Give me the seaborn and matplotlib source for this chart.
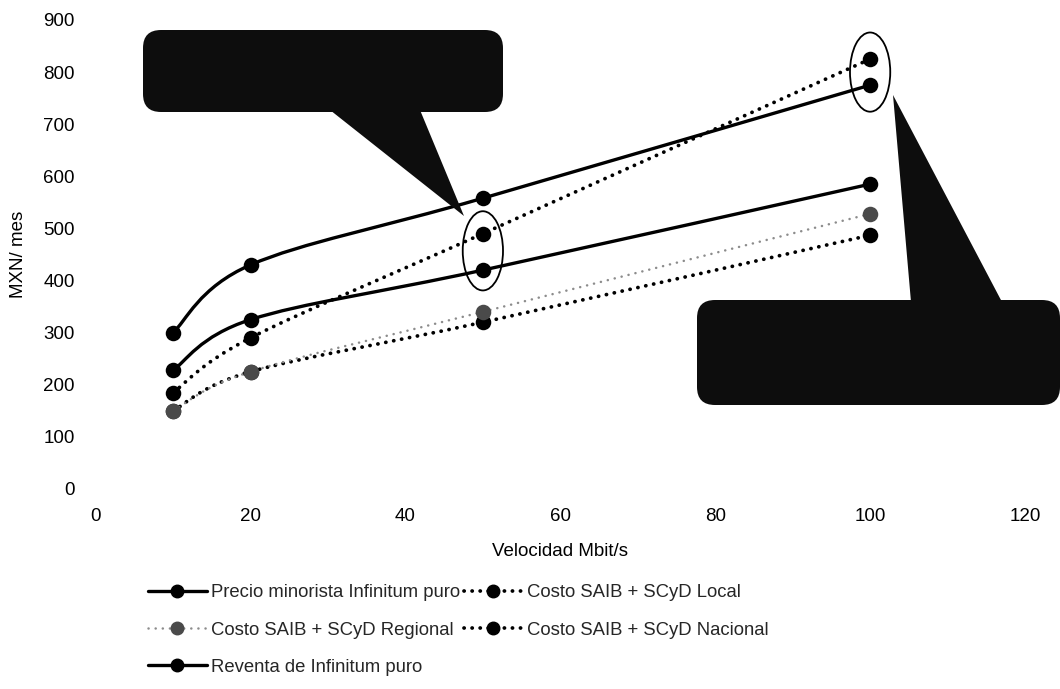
import numpy as np
import matplotlib
matplotlib.use("Agg")
import matplotlib.pyplot as plt
from matplotlib.path import Path
from matplotlib.patches import PathPatch, FancyBboxPatch, Polygon, Ellipse
from matplotlib.lines import Line2D
import seaborn as sns

# ---- data -------------------------------------------------------------
speeds = [10, 20, 50, 100]                      # Mbit/s
precio_minorista = [300, 430, 558, 775]         # MXN / mes
costo_local = [150, 225, 320, 487]
costo_regional = [150, 225, 340, 528]
costo_nacional = [185, 290, 490, 825]
reventa = [228, 325, 420, 585]

series_labels = [
    "Precio minorista Infinitum puro",
    "Costo SAIB + SCyD Local",
    "Costo SAIB + SCyD Regional",
    "Costo SAIB + SCyD Nacional",
    "Reventa de Infinitum puro",
]
x_ticks = [0, 20, 40, 60, 80, 100, 120]
y_ticks = [0, 100, 200, 300, 400, 500, 600, 700, 800, 900]
x_label = "Velocidad Mbit/s"
y_label = "MXN/ mes"

# ---- style ------------------------------------------------------------
sns.set_theme(style="white")
plt.rcParams["font.family"] = ["Liberation Sans", "DejaVu Sans"]

DOT = (0, (0.05, 2.1))
DOT_LIGHT = (0, (0.05, 2.8))
styles = {
    series_labels[0]: dict(values=precio_minorista, color="black", ls="-", lw=2.4, mc="black", z=4),
    series_labels[1]: dict(values=costo_local, color="black", ls=DOT, lw=2.7, mc="black", z=3),
    series_labels[2]: dict(values=costo_regional, color="#8c8c8c", ls=DOT_LIGHT, lw=1.8, mc="#4a4a4a", z=5),
    series_labels[3]: dict(values=costo_nacional, color="black", ls=DOT, lw=2.7, mc="black", z=3),
    series_labels[4]: dict(values=reventa, color="black", ls="-", lw=2.4, mc="black", z=4),
}


def smooth_path(xs, ys):
    """Cubic Bezier path through the points (Catmull-Rom style smoothing)."""
    pts = np.column_stack([xs, ys]).astype(float)
    n = len(pts)
    verts = [pts[0]]
    codes = [Path.MOVETO]
    for i in range(n - 1):
        p0 = pts[max(i - 1, 0)]
        p1 = pts[i]
        p2 = pts[i + 1]
        p3 = pts[min(i + 2, n - 1)]
        verts += [p1 + (p2 - p0) / 6.0, p2 - (p3 - p1) / 6.0, p2]
        codes += [Path.CURVE4] * 3
    return Path(verts, codes)


fig = plt.figure(figsize=(10.6, 6.89), dpi=100)
ax = fig.add_axes([0.0902, 0.2903, 0.8768, 0.6807])

for label, st in styles.items():
    patch = PathPatch(smooth_path(speeds, st["values"]), facecolor="none",
                      edgecolor=st["color"], lw=st["lw"], linestyle=st["ls"],
                      capstyle="round", joinstyle="round", zorder=st["z"])
    ax.add_patch(patch)
    sns.scatterplot(x=speeds, y=st["values"], color=st["mc"], s=125,
                    linewidth=0, ax=ax, zorder=st["z"] + 0.5, legend=False)

ax.set_xlim(0, 120)
ax.set_ylim(0, 900)
ax.set_xticks(x_ticks)
ax.set_yticks(y_ticks)
ax.tick_params(axis="both", length=0, labelsize=13.5, colors="black")
ax.tick_params(axis="x", pad=14)
ax.tick_params(axis="y", pad=15)
ax.set_xlabel(x_label, fontsize=13.5, labelpad=13, color="black")
ax.set_ylabel(y_label, fontsize=13.5, labelpad=12, color="black")
ax.grid(False)
sns.despine(ax=ax, left=True, bottom=True)

# ---- highlight ellipses around the crossing points --------------------
for cx, cy in [(50, 457), (100, 800)]:
    ax.add_patch(Ellipse((cx, cy), width=5.2, height=152, facecolor="none",
                         edgecolor="black", lw=1.3, zorder=6))

# ---- callout boxes (figure pixel coordinates, origin top-left) ---------
H = 689


def px(x, y):
    return (x / 100.0, (H - y) / 100.0)


box_color = "#0d0d0d"
callouts = [
    dict(box=(143, 30, 503, 112), tri=[(330, 110), (420, 110), (464, 216)]),
    dict(box=(697, 300, 1060, 405), tri=[(911, 302), (1002, 302), (893, 95)]),
]
for c in callouts:
    x0, y0, x1, y1 = c["box"]
    bx, by = px(x0, y1)
    fig.patches.append(FancyBboxPatch(
        (bx + 0.15, by + 0.15), (x1 - x0) / 100.0 - 0.30, (y1 - y0) / 100.0 - 0.30,
        boxstyle="round,pad=0.15,rounding_size=0.18", transform=fig.dpi_scale_trans,
        facecolor=box_color, edgecolor="none", zorder=10, figure=fig))
    fig.patches.append(Polygon([px(*p) for p in c["tri"]], closed=True,
                               transform=fig.dpi_scale_trans, facecolor=box_color,
                               edgecolor="none", zorder=10, figure=fig))

# ---- legend -----------------------------------------------------------
order = [series_labels[0], series_labels[2], series_labels[4],
         series_labels[1], series_labels[3]]
handles = []
for label in order:
    st = styles[label]
    handles.append(Line2D([], [], color=st["color"], lw=st["lw"], linestyle=st["ls"],
                          marker="o", markersize=9, markerfacecolor=st["mc"],
                          markeredgecolor=st["mc"], dash_capstyle="round"))
fig.legend(handles, order, loc="upper left", bbox_to_anchor=(0.1395, 0.152),
           ncol=2, frameon=False, fontsize=13.3, handlelength=3.2, handletextpad=0.2,
           columnspacing=0.22, labelspacing=1.1, borderpad=0, borderaxespad=0)

fig.savefig("out.png", dpi=100)
